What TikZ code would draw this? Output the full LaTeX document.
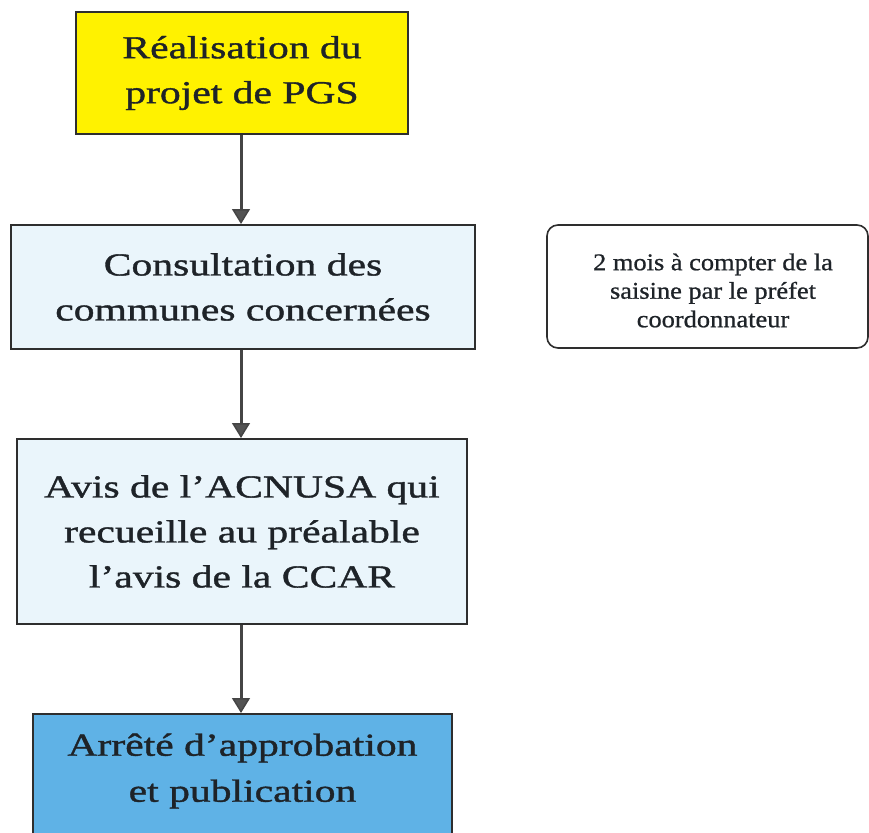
\documentclass[tikz,border=0pt]{standalone}
\usepackage{fontspec}
\setmainfont{Liberation Serif}
\newfontfamily\widef[FakeStretch=1.3,FakeBold=1.2]{Liberation Serif}
\newfontfamily\smallf[FakeStretch=1.1,FakeBold=0.8]{Liberation Serif}
\usetikzlibrary{arrows.meta}
\definecolor{boxyellow}{HTML}{FFF200}
\definecolor{boxlight}{HTML}{EAF5FB}
\definecolor{boxdark}{HTML}{5FB2E6}
\definecolor{edgegray}{HTML}{2E2E2E}
\definecolor{txt}{HTML}{1E2328}
\definecolor{arrowgray}{HTML}{454545}
\begin{document}
\begin{tikzpicture}[x=1pt,y=-1pt,
  stepbox/.style={draw=edgegray,line width=2pt,rectangle,inner sep=0pt,text=txt,align=center,
    font=\widef\fontsize{32}{45}\selectfont},
  flow/.style={draw=arrowgray,line width=3pt,-{Triangle[width=18pt,length=15pt,fill=gray!65!black,line width=1.5pt]}},
  notebox/.style={draw=edgegray,line width=1.6pt,rounded corners=11pt,inner sep=0pt,text=txt,align=center,
    font=\smallf\fontsize{24}{28.5}\selectfont}]
\useasboundingbox (0,0) rectangle (869,832);
\clip (0,0) rectangle (869,832);
\fill[white] (0,0) rectangle (869,832);
\node[stepbox,fill=boxyellow,minimum width=332pt,minimum height=122pt] (a) at (242,73) {Réalisation du\\projet de PGS};
\node[stepbox,fill=boxlight,minimum width=464pt,minimum height=124pt] (b) at (243,287) {Consultation des\\communes concernées};
\node[stepbox,fill=boxlight,minimum width=450pt,minimum height=185pt] (c) at (242,531.5) {Avis de l’ACNUSA qui\\recueille au préalable\\l’avis de la CCAR};
\node[stepbox,fill=boxdark,minimum width=419pt,minimum height=160pt,anchor=north] (d) at (242.5,713) {};
\node[text=txt,align=center,font=\widef\fontsize{32}{46}\selectfont] (dt) at (242.5,771) {Arrêté d’approbation\\et publication};
\node[notebox,fill=white,minimum width=321pt,minimum height=123pt] (n) at (707.5,286.5) {};
\node[text=txt,align=center,font=\smallf\fontsize{24}{28.5}\selectfont] (nt) at (713,290.5) {2 mois à compter de la\\saisine par le préfet\\coordonnateur};
\draw[flow] (a.south -| 241,0) -- (b.north -| 241,0);
\draw[flow] (b.south -| 241,0) -- (c.north -| 241,0);
\draw[flow] (c.south -| 241,0) -- (d.north -| 241,0);
\end{tikzpicture}
\end{document}
